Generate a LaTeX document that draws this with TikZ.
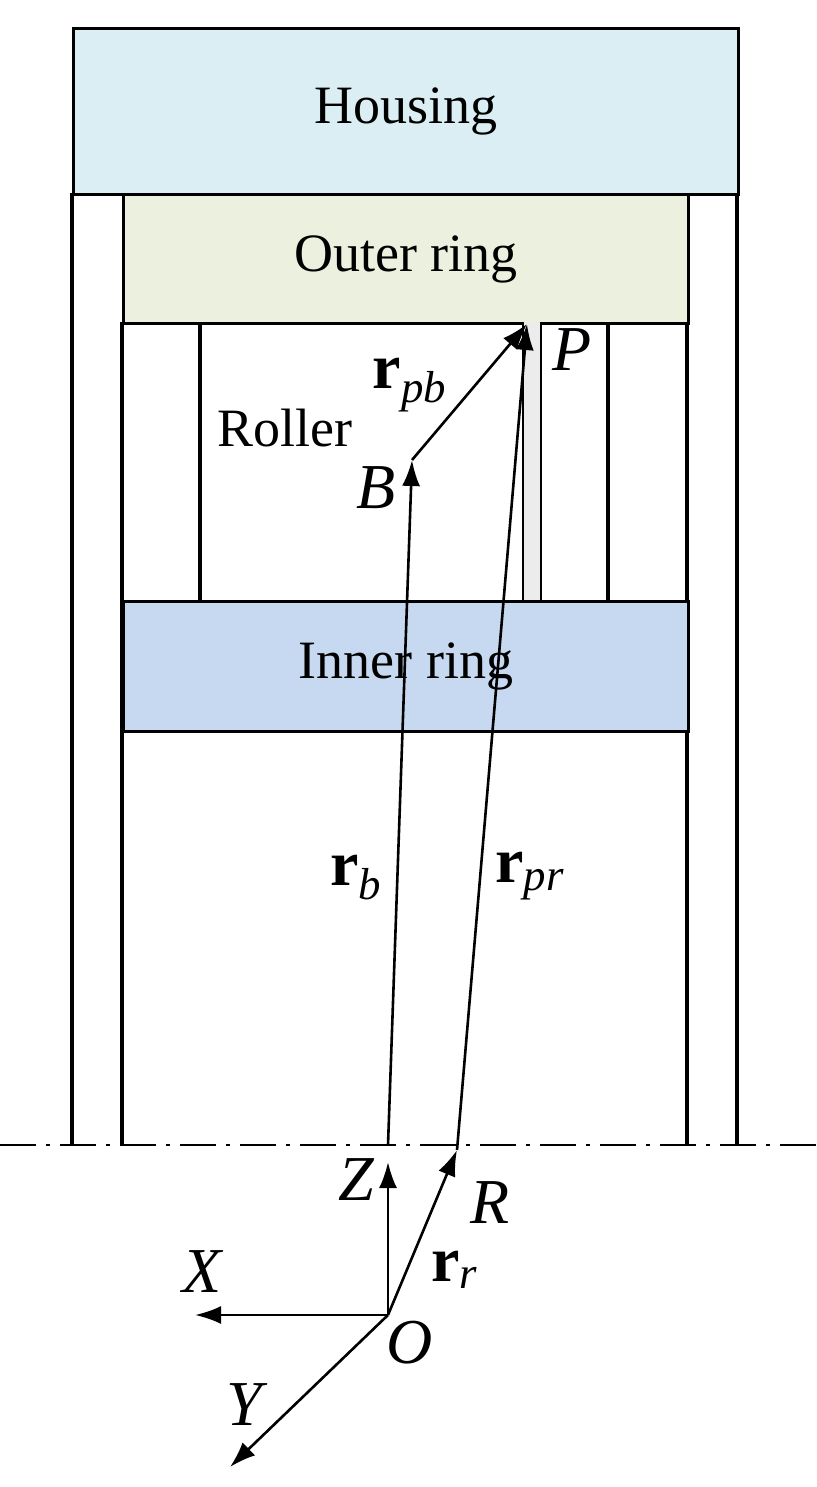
\documentclass[tikz,border=0pt]{standalone}
\usepackage{fontspec}
\setmainfont{Liberation Serif}
\usetikzlibrary{arrows.meta}
\newcommand{\vsub}[2]{\textbf{r}\textsubscript{\itshape #2}}
\begin{document}
\begin{tikzpicture}[x=0.5pt,y=-0.5pt,
  box/.style={draw,line width=1.6pt},
  vec/.style={-{Latex[length=13pt,width=9pt]},line width=1.3pt},
  lbl/.style={font=\fontsize{27}{30}\selectfont},
  ml/.style={font=\fontsize{32}{36}\selectfont\itshape,inner sep=0pt},
  vl/.style={font=\fontsize{32}{36}\selectfont,inner sep=0pt}]
\useasboundingbox (0,0) rectangle (816,1487);
\fill[white] (0,0) rectangle (816,1487);
\draw[line width=1.6pt] (72,193) -- (72,1145) (737,193) -- (737,1145);
\draw[line width=1.6pt] (122,322) -- (122,1145) (687,322) -- (687,1145);
\node[box,fill={rgb,255:red,219;green,238;blue,244},minimum width=332.5pt,minimum height=83pt,anchor=north west,lbl] (housing) at (72,27) {Housing};
\node[box,fill={rgb,255:red,235;green,241;blue,222},minimum width=282.5pt,minimum height=64.5pt,anchor=north west,lbl] (outer) at (122,193) {Outer ring};
\draw[line width=1.6pt] (200,322) -- (200,600) (608,322) -- (608,600);
\fill[gray!15] (523,322) rectangle (541,600);
\draw[line width=0.8pt] (523,322) -- (523,600) (541,322) -- (541,600);
\node[lbl] (roller) at (285,428) {Roller};
\node[box,fill={rgb,255:red,198;green,217;blue,241},minimum width=282.5pt,minimum height=65pt,anchor=north west,lbl] (inner) at (122,600) {Inner ring};
\draw[line width=1.3pt,dash pattern=on 18pt off 5pt on 2pt off 5pt] (0,1145) -- (816,1145);
\coordinate (O) at (388,1315);
\coordinate (Z) at (388,1162);
\coordinate (Zb) at (388,1145);
\coordinate (X) at (195,1315);
\coordinate (Y) at (230,1467);
\coordinate (R) at (457,1150);
\coordinate (B) at (412,460);
\coordinate (P) at (527,324);
\draw[vec] (O) -- (Z);
\draw[vec] (O) -- (X);
\draw[vec] (O) -- (Y);
\draw[vec] (O) -- (R);
\draw[vec] (Zb) -- (B);
\draw[vec] (R) -- (P);
\draw[vec] (B) -- (P);
\node[ml] (lP) at (572,350) {P};
\node[ml] (lB) at (376,488) {B};
\node[ml] (lZ) at (356,1180) {Z};
\node[ml] (lR) at (490,1203) {R};
\node[ml] (lX) at (202,1272) {X};
\node[ml] (lY) at (244,1405) {Y};
\node[ml] (lO) at (410,1343) {O};
\node[vl] (lrb) at (356,878) {\vsub{r}{b}};
\node[vl] (lrpr) at (530,876) {\vsub{r}{pr}};
\node[vl] (lrpb) at (410,385) {\vsub{r}{pb}};
\node[vl] (lrr) at (455,1270) {\vsub{r}{r}};
\end{tikzpicture}
\end{document}
